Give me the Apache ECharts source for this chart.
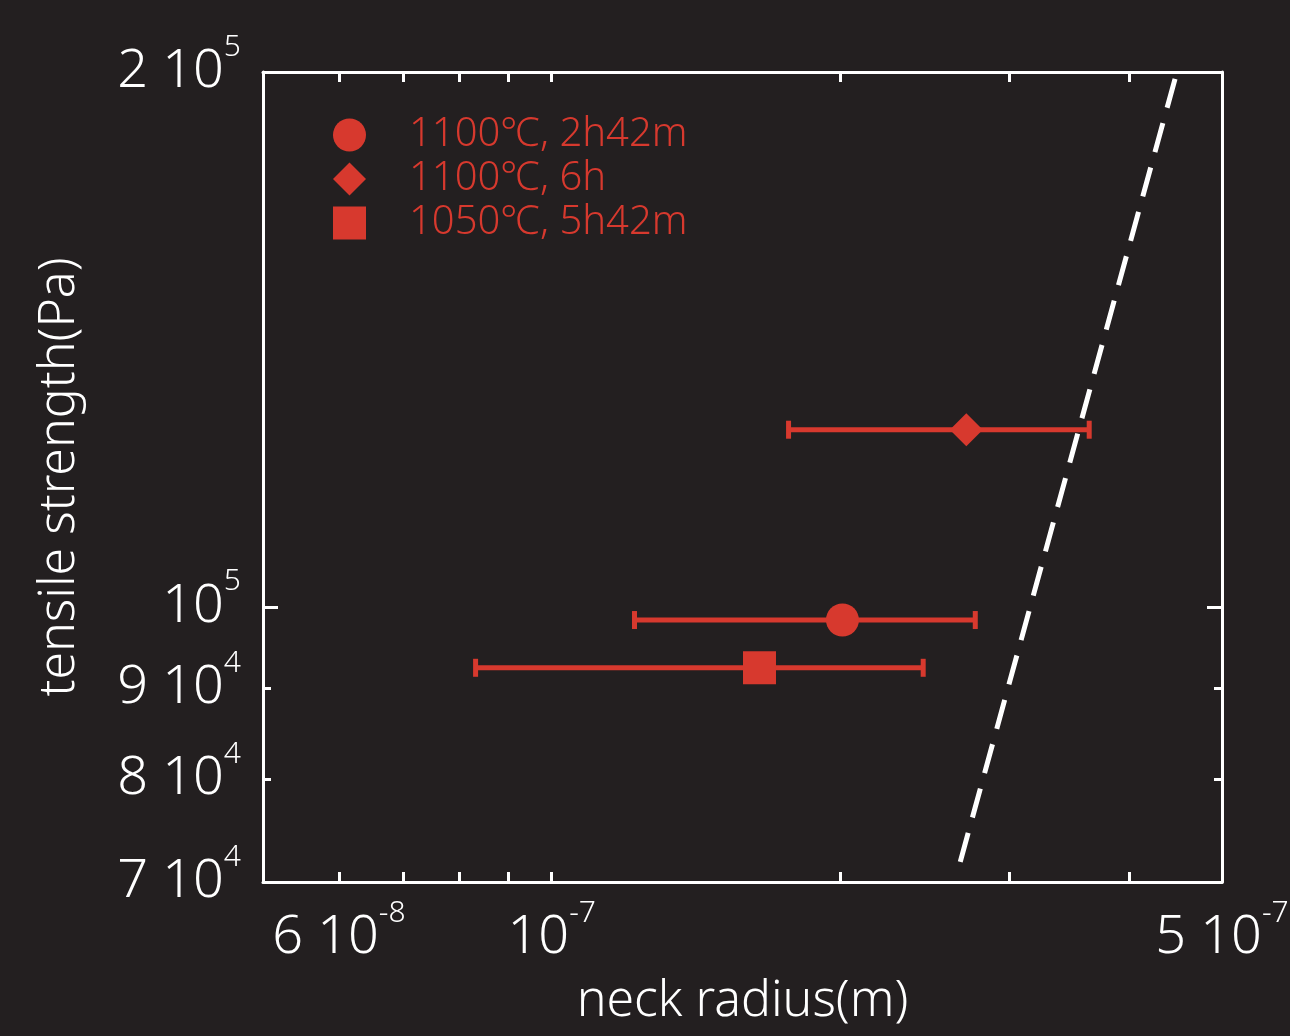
<!DOCTYPE html>
<html>
<head>
<meta charset="utf-8">
<script src="https://cdn.jsdelivr.net/npm/echarts@6/dist/echarts.min.js"></script>
<style>
html,body{margin:0;padding:0;background:#231f20;}
#chart{width:1290px;height:1036px;}
</style>
</head>
<body>
<div id="chart"></div>
<script>
// ---- data ----
const seriesNames = ['1100℃, 2h42m', '1100℃, 6h', '1050℃, 5h42m'];
const seriesSymbols = ['circle', 'diamond', 'rect'];
const neckRadius = [2.01e-7, 2.706e-7, 1.647e-7];        // m
const neckRadiusLow = [1.22e-7, 1.766e-7, 8.33e-8];       // error bar low
const neckRadiusHigh = [2.765e-7, 3.635e-7, 2.44e-7];     // error bar high
const tensileStrength = [9.83e4, 1.258e5, 9.24e4];        // Pa
const modelLineX = [2.667e-7, 4.487e-7];
const modelLineY = [7.185e4, 2.0e5];
const xTickValues = [6e-8, 7e-8, 8e-8, 9e-8, 1e-7, 2e-7, 3e-7, 4e-7];
const xLabelValues = [6e-8, 1e-7, 5e-7];
const xLabelTexts = [['6 10', '-8'], ['10', '-7'], ['5 10', '-7']];
const yMajorTickValues = [1e5];
const yMinorTickValues = [8e4, 9e4];
const yLabelValues = [7e4, 8e4, 9e4, 1e5, 2e5];
const yLabelTexts = [['7 10', '4'], ['8 10', '4'], ['9 10', '4'], ['10', '5'], ['2 10', '5']];

const RED = '#d7392e';
const WHITE = '#ffffff';
const FONT = 'Noto Sans';
const WEIGHT = 300;

function labelFor(values, texts) {
  return function (v) {
    let best = 0, bd = Infinity;
    for (let i = 0; i < values.length; i++) {
      const d = Math.abs(Math.log10(v) - Math.log10(values[i]));
      if (d < bd) { bd = d; best = i; }
    }
    return '{m|' + texts[best][0] + '}{s|' + texts[best][1] + '}';
  };
}
const richLab = {
  m: { fontSize: 54, color: WHITE, fontFamily: FONT, fontWeight: WEIGHT, lineHeight: 80 },
  s: { fontSize: 30, color: WHITE, fontFamily: FONT, fontWeight: WEIGHT, lineHeight: 28, verticalAlign: 'top' }
};

const xBase = { type: 'log', logBase: 10, min: 5e-8, max: 5e-7, gridIndex: 0 };
const yBase = { type: 'log', logBase: 10, min: 7e4, max: 2e5, gridIndex: 0 };
const noLabel = { show: false };
const noSplit = { show: false };

const xAxes = [
  Object.assign({}, xBase, {
    position: 'bottom',
    axisLine: { show: true, lineStyle: { color: WHITE, width: 3 } },
    axisTick: { show: true, inside: true, length: 10, lineStyle: { color: WHITE, width: 3 }, customValues: xTickValues },
    axisLabel: { show: true, customValues: xLabelValues, formatter: labelFor(xLabelValues, xLabelTexts), rich: richLab, margin: 16, showMaxLabel: true, showMinLabel: true, hideOverlap: false },
    splitLine: noSplit,
    name: 'neck radius(m)', nameLocation: 'middle', nameGap: 95,
    nameTextStyle: { color: WHITE, fontSize: 50, fontFamily: FONT, fontWeight: WEIGHT }
  }),
  Object.assign({}, xBase, {
    position: 'top',
    axisLine: { show: true, lineStyle: { color: WHITE, width: 3 } },
    axisTick: { show: true, inside: true, length: 10, lineStyle: { color: WHITE, width: 3 }, customValues: xTickValues },
    axisLabel: noLabel, splitLine: noSplit
  })
];
function yAxisDef(pos, ticks, len, withLine, withLabel) {
  const a = Object.assign({}, yBase, {
    position: pos, offset: 0,
    axisLine: { show: withLine, lineStyle: { color: WHITE, width: 3 } },
    axisTick: { show: true, inside: true, length: len, lineStyle: { color: WHITE, width: 3 }, customValues: ticks },
    axisLabel: noLabel, splitLine: noSplit
  });
  if (withLabel) {
    a.axisLabel = { show: true, customValues: yLabelValues, formatter: labelFor(yLabelValues, yLabelTexts), rich: richLab, margin: 22, showMaxLabel: true, showMinLabel: true, hideOverlap: false };
    a.name = 'tensile strength(Pa)';
    a.nameLocation = 'middle';
    a.nameGap = 178;
    a.nameTextStyle = { color: WHITE, fontSize: 50, fontFamily: FONT, fontWeight: WEIGHT };
  }
  return a;
}
const yAxes = [
  yAxisDef('left', yMajorTickValues, 15, true, true),
  yAxisDef('left', yMinorTickValues, 8, false, false),
  yAxisDef('right', yMajorTickValues, 15, true, false),
  yAxisDef('right', yMinorTickValues, 8, false, false)
];

const series = [];
// error bars
series.push({
  type: 'custom',
  name: 'errorbars',
  xAxisIndex: 0, yAxisIndex: 0,
  z: 2,
  silent: true,
  encode: { x: [0, 1], y: 2 },
  data: neckRadius.map((_, i) => [neckRadiusLow[i], neckRadiusHigh[i], tensileStrength[i]]),
  renderItem: function (params, api) {
    const p1 = api.coord([api.value(0), api.value(2)]);
    const p2 = api.coord([api.value(1), api.value(2)]);
    const cap = 9;
    const st = { stroke: RED, lineWidth: 5 };
    return {
      type: 'group',
      children: [
        { type: 'line', shape: { x1: p1[0], y1: p1[1], x2: p2[0], y2: p2[1] }, style: st },
        { type: 'line', shape: { x1: p1[0], y1: p1[1] - cap, x2: p1[0], y2: p1[1] + cap }, style: st },
        { type: 'line', shape: { x1: p2[0], y1: p2[1] - cap, x2: p2[0], y2: p2[1] + cap }, style: st }
      ]
    };
  }
});
// model dashed line
series.push({
  type: 'line',
  name: 'model',
  xAxisIndex: 0, yAxisIndex: 0,
  z: 3,
  symbol: 'none',
  silent: true,
  data: modelLineX.map((x, i) => [x, modelLineY[i]]),
  lineStyle: { color: WHITE, width: 5, type: [30, 16] }
});
// markers
seriesNames.forEach((nm, i) => {
  series.push({
    type: 'scatter',
    name: nm,
    xAxisIndex: 0, yAxisIndex: 0,
    z: 4,
    symbol: seriesSymbols[i],
    symbolSize: 33,
    itemStyle: { color: RED, opacity: 1 },
    data: [[neckRadius[i], tensileStrength[i]]]
  });
});

const chart = echarts.init(document.getElementById('chart'), null, { renderer: 'canvas' });
chart.setOption({
  backgroundColor: '#231f20',
  animation: false,
  grid: { left: 263, right: 68, top: 72, bottom: 154, containLabel: false, outerBoundsMode: 'none' },
  legend: {
    data: seriesNames.map((n, i) => ({ name: n, icon: seriesSymbols[i] })),
    orient: 'vertical',
    left: 333, top: 115,
    padding: 0,
    itemWidth: 33, itemHeight: 33, itemGap: 4,
    textStyle: { color: RED, fontSize: 40, lineHeight: 40, fontFamily: FONT, fontWeight: WEIGHT, padding: [0, 0, 0, 38] },
    selectedMode: false
  },
  xAxis: xAxes,
  yAxis: yAxes,
  series: series
});
</script>
</body>
</html>
